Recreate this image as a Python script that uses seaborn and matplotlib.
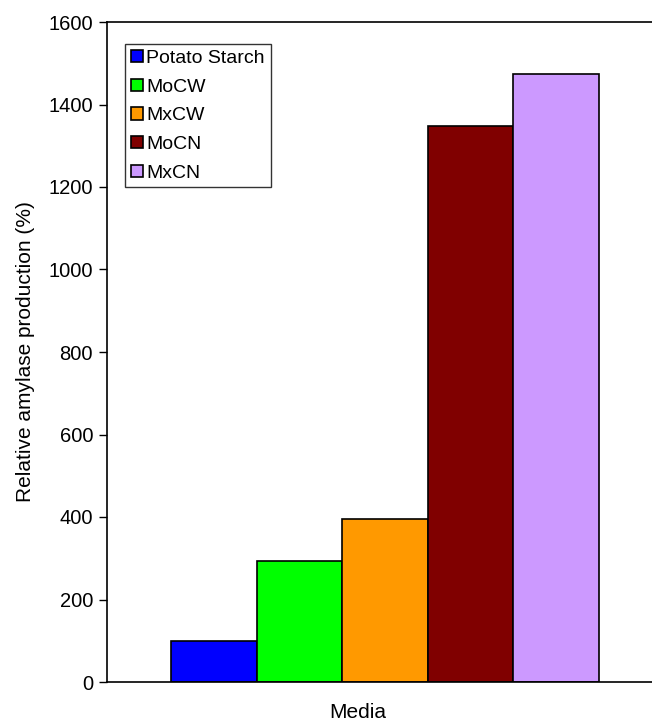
import pandas as pd
import matplotlib
matplotlib.use("Agg")
import matplotlib.pyplot as plt
import seaborn as sns

media = ["Potato Starch", "MoCW", "MxCW", "MoCN", "MxCN"]
production = [100, 293, 395, 1347, 1473]
colors = ["#0000FF", "#00FF00", "#FF9900", "#800000", "#CC99FF"]

sns.set_theme(style="white")
plt.rcParams["font.family"] = ["Liberation Sans", "DejaVu Sans"]
plt.rcParams["text.color"] = "black"
plt.rcParams["axes.labelcolor"] = "black"
plt.rcParams["ytick.color"] = "black"

df = pd.DataFrame({"group": ["Media"] * len(media), "medium": media, "value": production})

fig = plt.figure(figsize=(6.52, 7.21), dpi=100)
ax = fig.add_axes([107 / 652, 1 - 682 / 721, 556 / 652, 660 / 721])

sns.barplot(data=df, x="group", y="value", hue="medium", hue_order=media,
            palette=colors, width=0.77, dodge=True, edgecolor="black",
            linewidth=1.2, saturation=1, ax=ax, legend=True)

ax.set_xlim(-0.5, 0.5)
ax.set_ylim(0, 1600)
ax.set_yticks(range(0, 1601, 200))
ax.set_xticks([])
ax.tick_params(axis="y", direction="out", length=6, width=1, colors="black",
               labelsize=14.5, left=True, pad=4)
ax.set_xlabel("Media", fontsize=15, va="center")
ax.xaxis.set_label_coords((358 - 107) / 556, -30 / 660)
ax.set_ylabel("Relative amylase production (%)", fontsize=15, labelpad=10)
for side in ["left", "top", "bottom"]:
    ax.spines[side].set_color("black")
    ax.spines[side].set_linewidth(1.2)
ax.spines["right"].set_visible(False)

leg = ax.legend(loc="upper left", bbox_to_anchor=(18 / 556, 1 - 22 / 660),
                fontsize=14, frameon=True, fancybox=False, shadow=False,
                handlelength=0.6, handleheight=0.6, handletextpad=0.2,
                labelspacing=0.6, borderpad=0.3, borderaxespad=0)
leg.get_frame().set_edgecolor("black")
leg.get_frame().set_linewidth(1)

fig.savefig("out.png", dpi=100)
